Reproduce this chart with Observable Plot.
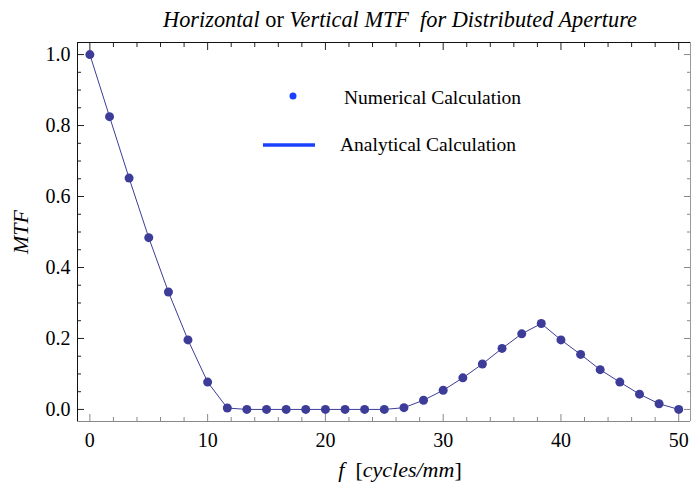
<!DOCTYPE html>
<html><head><meta charset="utf-8">
<script src="https://cdn.jsdelivr.net/npm/d3@7"></script>
<script src="https://cdn.jsdelivr.net/npm/@observablehq/plot@0.6"></script>
<style>body{margin:0;background:#fff} #chart{width:691px;height:487px}</style>
</head><body><div id="chart"></div>
<script>
// ---- data ----
const freq = [0, 1.67, 3.33, 5, 6.67, 8.33, 10, 11.67, 13.33, 15, 16.67, 18.33, 20, 21.67, 23.33, 25,
              26.67, 28.33, 30, 31.67, 33.33, 35, 36.67, 38.33, 40, 41.67, 43.33, 45, 46.67, 48.33, 50];
const mtf  = [1.0, 0.825, 0.652, 0.484, 0.331, 0.196, 0.077, 0.004, 0, 0, 0, 0, 0, 0, 0, 0,
              0.005, 0.026, 0.054, 0.089, 0.128, 0.172, 0.213, 0.242, 0.196, 0.155, 0.112, 0.077, 0.043, 0.016, 0];
const xMajor = [0, 10, 20, 30, 40, 50];
const xMinor = [2, 4, 6, 8, 12, 14, 16, 18, 22, 24, 26, 28, 32, 34, 36, 38, 42, 44, 46, 48];
const yMajor = [0, 0.2, 0.4, 0.6, 0.8, 1.0];
const yMinor = [0.05, 0.1, 0.15, 0.25, 0.3, 0.35, 0.45, 0.5, 0.55, 0.65, 0.7, 0.75, 0.85, 0.9, 0.95];
const legendLabels = ["Numerical Calculation", "Analytical Calculation"];

const data = freq.map((f, i) => ({f, m: mtf[i]}));
const xDom = [-1.05, 51.0], yDom = [-0.034, 1.034];
const ptColor = "#3d3d99", legColor = "#1a40ff";
const FONT = "'Liberation Serif', 'Times New Roman', serif";

const noText = () => "";
const plot = Plot.plot({
  width: 691, height: 487,
  marginLeft: 77, marginRight: 1, marginTop: 42, marginBottom: 66,
  style: {fontFamily: FONT, fontSize: "20px", background: "white", color: "#000"},
  x: {domain: xDom, axis: null},
  y: {domain: yDom, axis: null},
  marks: [
    // labels
    Plot.axisX(xMajor, {anchor: "bottom", tickSize: 0, tickPadding: 11, label: null, fontSize: 20, tickFormat: d => String(d)}),
    Plot.axisY(yMajor, {anchor: "left", tickSize: 0, tickPadding: 7, label: null, fontSize: 20, tickFormat: d => d.toFixed(1)}),
    // inward ticks
    Plot.axisX(xMajor, {anchor: "bottom", tickSize: -7, label: null, tickFormat: noText, stroke: "#888"}),
    Plot.axisX(xMinor, {anchor: "bottom", tickSize: -4, label: null, tickFormat: noText, stroke: "#888"}),
    Plot.axisX(xMajor, {anchor: "top", tickSize: -7, label: null, tickFormat: noText, stroke: "#222"}),
    Plot.axisX(xMinor, {anchor: "top", tickSize: -4, label: null, tickFormat: noText, stroke: "#222"}),
    Plot.axisY(yMajor, {anchor: "left", tickSize: -7, label: null, tickFormat: noText, stroke: "#222"}),
    Plot.axisY(yMinor, {anchor: "left", tickSize: -4, label: null, tickFormat: noText, stroke: "#222"}),
    Plot.axisY(yMajor, {anchor: "right", tickSize: -7, label: null, tickFormat: noText, stroke: "#888"}),
    Plot.axisY(yMinor, {anchor: "right", tickSize: -4, label: null, tickFormat: noText, stroke: "#888"}),
    // frame
    Plot.ruleY([yDom[0]], {stroke: "#888"}),
    Plot.ruleX([xDom[1]], {stroke: "#999"}),
    Plot.ruleX([xDom[0]], {stroke: "#111"}),
    Plot.ruleY([yDom[1]], {stroke: "#111"}),
    // data
    Plot.line(data, {x: "f", y: "m", stroke: ptColor, strokeWidth: 1}),
    Plot.dot(data, {x: "f", y: "m", r: 4.5, fill: ptColor, stroke: "none"})
  ]
});
document.getElementById("chart").appendChild(plot);

const svg = d3.select(plot);
svg.style("white-space", "pre");
// title
const t = svg.append("text").attr("x", 400).attr("y", 27).attr("text-anchor", "middle")
  .attr("font-size", 22.3).attr("fill", "#000").attr("xml:space", "preserve");
t.append("tspan").attr("font-style", "italic").text("Horizontal");
t.append("tspan").text(" or ");
t.append("tspan").attr("font-style", "italic").text("Vertical MTF  for Distributed Aperture");
// x label
const xl = svg.append("text").attr("x", 400).attr("y", 477).attr("text-anchor", "middle")
  .attr("font-size", 22).attr("fill", "#000").attr("xml:space", "preserve");
xl.append("tspan").attr("font-style", "italic").text("f");
xl.append("tspan").text("  [");
xl.append("tspan").attr("font-style", "italic").text("cycles/mm");
xl.append("tspan").text("]");
// y label
svg.append("text").attr("transform", "translate(28,232) rotate(-90)").attr("text-anchor", "middle")
  .attr("font-size", 22).attr("font-style", "italic").attr("fill", "#000").text("MTF");
// legend
svg.append("circle").attr("cx", 293).attr("cy", 96).attr("r", 3.5).attr("fill", legColor);
svg.append("line").attr("x1", 263).attr("x2", 315).attr("y1", 145).attr("y2", 145)
  .attr("stroke", legColor).attr("stroke-width", 3.5);
svg.append("text").attr("x", 344).attr("y", 104).attr("text-anchor", "start").attr("font-size", 19.5)
  .attr("fill", "#000").text(legendLabels[0]);
svg.append("text").attr("x", 340).attr("y", 151).attr("text-anchor", "start").attr("font-size", 19.5)
  .attr("fill", "#000").text(legendLabels[1]);
</script>
</body></html>
